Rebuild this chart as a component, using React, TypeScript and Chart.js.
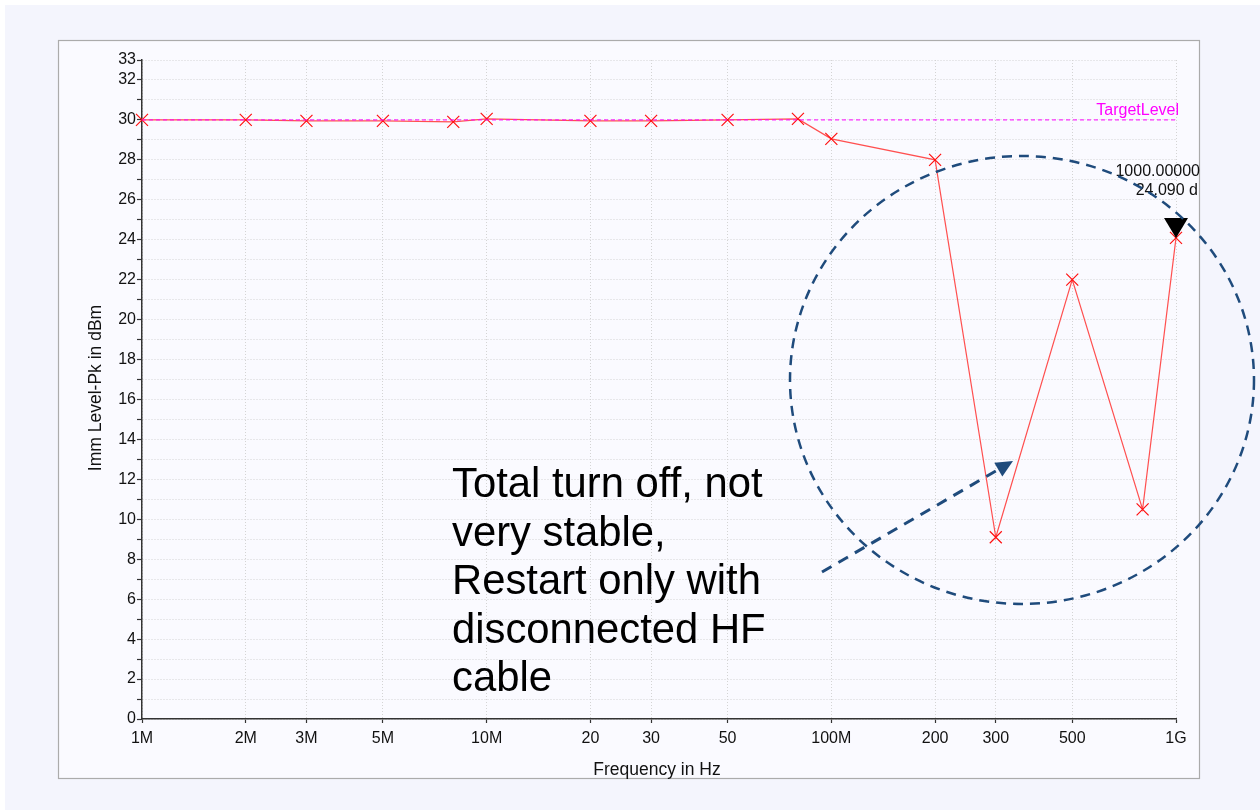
import React, { useEffect, useRef } from "react";
import { Chart, registerables } from "chart.js";

Chart.register(...registerables);

// ---- data ----
const freqMHz = [1, 2, 3, 5, 8, 10, 20, 30, 50, 80, 100, 200, 300, 500, 800, 1000];
const levelDbm = [30.0, 30.0, 29.95, 29.95, 29.9, 30.05, 29.95, 29.95, 30.0, 30.05, 29.05, 28.0, 9.1, 22.0, 10.5, 24.09];

const targetFreqMHz = [1, 1000];
const targetLevel = [30, 30];

const markerFreqMHz = [1000];
const markerLevel = [24.09];
const markerLines = ["1000.00000", "24.090 d"];

const xTickValuesMHz = [1, 2, 3, 5, 10, 20, 30, 50, 100, 200, 300, 500, 1000];
const xTickLabels = ["1M", "2M", "3M", "5M", "10M", "20", "30", "50", "100M", "200", "300", "500", "1G"];

const noteLines = [
  "Total turn off, not",
  "very stable,",
  "Restart only with",
  "disconnected HF",
  "cable",
];

const FONT = '"Liberation Sans", Arial, sans-serif';

const bgPlugin = {
  id: "bgPlugin",
  beforeDraw(chart: any) {
    const ctx = chart.ctx;
    ctx.save();
    ctx.fillStyle = "#ffffff";
    ctx.fillRect(0, 0, chart.width, chart.height);
    ctx.fillStyle = "#f4f5fd";
    ctx.fillRect(5, 5, chart.width - 5, chart.height - 5);
    ctx.fillStyle = "#fafaff";
    ctx.fillRect(58, 40, 1141, 738);
    ctx.strokeStyle = "#ababab";
    ctx.lineWidth = 1.2;
    ctx.strokeRect(58.5, 40.5, 1141, 738);
    ctx.restore();
  },
};

const annotPlugin = {
  id: "annotPlugin",
  afterDraw(chart: any) {
    const ctx = chart.ctx;
    const xs = chart.scales.x;
    const ys = chart.scales.y;
    ctx.save();

    // axis titles
    ctx.fillStyle = "#111";
    ctx.font = `17.5px ${FONT}`;
    ctx.textAlign = "center";
    ctx.textBaseline = "middle";
    ctx.fillText("Frequency in Hz", 657, 770);
    ctx.save();
    ctx.translate(96, 388);
    ctx.rotate(-Math.PI / 2);
    ctx.fillText("Imm Level-Pk in dBm", 0, 0);
    ctx.restore();

    // target label
    ctx.fillStyle = "#ff00ff";
    ctx.font = `16px ${FONT}`;
    ctx.textAlign = "right";
    ctx.fillText("TargetLevel", xs.getPixelForValue(targetFreqMHz[1] * 1e6) + 3, ys.getPixelForValue(targetLevel[1]) - 9);

    // marker triangle
    const mx = xs.getPixelForValue(markerFreqMHz[0] * 1e6);
    const my = ys.getPixelForValue(markerLevel[0]);
    ctx.fillStyle = "#000";
    ctx.beginPath();
    ctx.moveTo(mx, my);
    ctx.lineTo(mx - 12, my - 20);
    ctx.lineTo(mx + 12, my - 20);
    ctx.closePath();
    ctx.fill();

    ctx.font = `16px ${FONT}`;
    ctx.textAlign = "right";
    ctx.fillStyle = "#111";
    ctx.fillText(markerLines[0], 1200, 172);
    ctx.fillText(markerLines[1], 1198, 191);

    // note text
    ctx.fillStyle = "#000";
    ctx.font = `41.8px ${FONT}`;
    ctx.textAlign = "left";
    ctx.textBaseline = "alphabetic";
    noteLines.forEach((t, i) => ctx.fillText(t, 452, 497 + i * 48.5));

    // dashed ellipse
    const blue = "#1f4b7c";
    ctx.strokeStyle = blue;
    ctx.lineWidth = 2.5;
    ctx.setLineDash([10, 7]);
    ctx.beginPath();
    ctx.ellipse(1022, 380, 232, 224, 0, 0, Math.PI * 2);
    ctx.stroke();

    // dashed arrow
    const x0 = 822, y0 = 572, x1 = 1013, y1 = 461;
    const ang = Math.atan2(y1 - y0, x1 - x0);
    const headLen = 17, headW = 8;
    const bx = x1 - headLen * Math.cos(ang);
    const by = y1 - headLen * Math.sin(ang);
    ctx.lineWidth = 3;
    ctx.setLineDash([11, 8]);
    ctx.beginPath();
    ctx.moveTo(x0, y0);
    ctx.lineTo(bx, by);
    ctx.stroke();
    ctx.setLineDash([]);
    ctx.fillStyle = blue;
    ctx.beginPath();
    ctx.moveTo(x1, y1);
    ctx.lineTo(bx + headW * Math.sin(ang), by - headW * Math.cos(ang));
    ctx.lineTo(bx - headW * Math.sin(ang), by + headW * Math.cos(ang));
    ctx.closePath();
    ctx.fill();

    ctx.restore();
  },
};

export default function App() {
  const ref = useRef<HTMLCanvasElement | null>(null);

  useEffect(() => {
    if (!ref.current) return;
    const chart = new Chart(ref.current, {
      type: "line",
      data: {
        datasets: [
          {
            label: "TargetLevel",
            data: targetFreqMHz.map((f, i) => ({ x: f * 1e6, y: targetLevel[i] })),
            borderColor: "#ff00ff",
            borderWidth: 1,
            borderDash: [4, 3],
            pointRadius: 0,
            clip: false as any,
          },
          {
            label: "Imm Level-Pk",
            data: freqMHz.map((f, i) => ({ x: f * 1e6, y: levelDbm[i] })),
            borderColor: "#ff5050",
            borderWidth: 1.2,
            pointStyle: "crossRot",
            pointRadius: 8.5,
            pointBorderColor: "#ff1010",
            pointBorderWidth: 1.2,
            pointBackgroundColor: "#ff1010",
            tension: 0,
            clip: false as any,
          },
        ],
      },
      options: {
        animation: false,
        responsive: false,
        devicePixelRatio: 1,
        layout: { padding: { left: 0, top: 60, right: 84, bottom: 0 } },
        plugins: { legend: { display: false }, tooltip: { enabled: false } },
        font: { family: FONT },
        scales: {
          x: {
            type: "logarithmic",
            min: 1e6,
            max: 1e9,
            afterBuildTicks: (scale: any) => {
              scale.ticks = xTickValuesMHz.map((v) => ({ value: v * 1e6 }));
            },
            afterFit: (scale: any) => {
              scale.height = 91;
            },
            ticks: {
              autoSkip: false,
              maxRotation: 0,
              padding: 6,
              color: "#111",
              font: { family: FONT, size: 16 },
              callback: (_v: any, i: number) => xTickLabels[i],
            },
            grid: {
              color: "#d4d4d4",
              lineWidth: 1,
              drawTicks: true,
              tickLength: 4,
              tickColor: "#333",
              tickWidth: 1.2,
            },
            border: { display: true, color: "#333", width: 1.5, dash: [1, 2] },
          },
          y: {
            type: "linear",
            min: 0,
            max: 33,
            afterFit: (scale: any) => {
              scale.width = 142;
            },
            ticks: {
              stepSize: 1,
              autoSkip: false,
              padding: 1,
              color: "#111",
              font: { family: FONT, size: 16 },
              callback: (v: any) => (v % 2 === 0 || v === 33 ? String(v) : ""),
            },
            grid: {
              color: "#d4d4d4",
              lineWidth: 1,
              drawTicks: true,
              tickLength: 5,
              tickColor: "#333",
              tickWidth: 1.2,
            },
            border: { display: true, color: "#333", width: 1.5, dash: [1, 2] },
          },
        },
      } as any,
      plugins: [bgPlugin, annotPlugin],
    });
    return () => chart.destroy();
  }, []);

  return (
    <div style={{ position: "absolute", left: 0, top: 0, width: 1260, height: 810 }}>
      <canvas ref={ref} width={1260} height={810} style={{ display: "block" }} />
    </div>
  );
}
